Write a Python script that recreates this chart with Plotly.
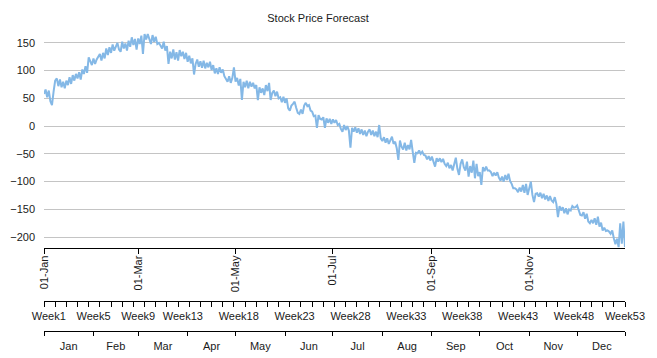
import plotly.graph_objects as go
import pandas as pd

title_text = "Stock Price Forecast"
start_date = "2023-01-01"
end_date = "2023-12-31"

# daily values (Jan 1 .. Dec 31)
values = [
    58, 66, 52, 64, 45, 38, 62, 82, 86, 72, 84, 70, 80, 68, 82, 74, 88, 76, 92, 82,
    94, 86, 97, 84, 102, 94, 108, 96, 124, 116, 110, 122, 112, 120, 126, 130, 118, 132, 122, 140,
    128, 142, 132, 147, 136, 144, 150, 138, 134, 152, 140, 149, 136, 154, 143, 160, 146, 157, 138, 158,
    148, 163, 130, 166, 156, 166, 158, 148, 164, 152, 161, 148, 150, 144, 140, 152, 136, 144, 112, 134,
    122, 138, 120, 133, 118, 137, 126, 134, 121, 132, 116, 127, 113, 122, 93, 112, 120, 107, 117, 105,
    118, 104, 114, 106, 116, 101, 110, 95, 104, 94, 106, 96, 102, 90, 86, 80, 90, 78, 87, 106,
    80, 87, 73, 85, 47, 80, 70, 82, 68, 80, 71, 78, 68, 74, 47, 70, 60, 68, 56, 74,
    63, 78, 47, 60, 64, 54, 62, 50, 52, 43, 53, 42, 50, 32, 28, 37, 40, 44, 33, 24,
    22, 30, 22, 37, 42, 36, 38, 28, 26, 18, 19, -3, 20, 13, 12, 16, -3, 14, 6, 13,
    4, 12, 6, 11, 2, 4, -5, -10, 2, -7, 0, -8, -39, -3, -10, -2, -12, -4, -14, -6,
    -16, -8, -18, -10, -6, -16, -8, -18, -10, -20, 2, -22, -27, -20, -30, -22, -32, -25, -19, -32,
    -28, -40, -61, -26, -37, -42, -30, -44, -34, -42, -25, -46, -66, -48, -49, -44, -50, -46, -52, -53,
    -60, -54, -62, -55, -63, -73, -58, -64, -58, -65, -59, -68, -72, -66, -76, -70, -80, -68, -57, -77,
    -88, -68, -60, -74, -80, -64, -91, -72, -84, -62, -94, -68, -90, -83, -106, -74, -81, -73, -80, -80,
    -83, -90, -84, -89, -83, -93, -98, -91, -100, -88, -97, -86, -99, -104, -112, -112, -114, -119, -111, -118,
    -106, -120, -104, -124, -113, -100, -124, -137, -122, -121, -127, -120, -130, -122, -132, -125, -135, -126, -134, -137,
    -128, -140, -164, -144, -152, -146, -157, -148, -159, -150, -152, -144, -147, -146, -143, -154, -160, -161, -155, -167,
    -158, -172, -175, -169, -175, -166, -178, -163, -181, -174, -188, -183, -189, -188, -190, -194, -188, -202, -213, -203,
    -218, -175, -212, -172, -218,
]

y_ticks = [-200, -150, -100, -50, 0, 50, 100, 150]
week_numbers = [1, 5, 9, 13, 18, 23, 28, 33, 38, 43, 48, 53]
month_labels = ["Jan", "Feb", "Mar", "Apr", "May", "Jun",
                "Jul", "Aug", "Sep", "Oct", "Nov", "Dec"]

dates = pd.date_range(start_date, periods=len(values), freq="D")
t0 = pd.Timestamp(start_date)
t1 = pd.Timestamp(end_date)

# week axis positions
week_bounds = pd.date_range(t0, t1, freq="7D")
week_label_pos = [min(t0 + pd.Timedelta(days=7 * (n - 1) + 3), t1) for n in week_numbers]
week_label_text = ["Week%d" % n for n in week_numbers]

# month axis positions
month_starts = pd.date_range(t0, periods=12, freq="MS")
month_ends = list(month_starts[1:]) + [t1 + pd.Timedelta(days=1)]
month_label_pos = [s + (e - s) / 2 for s, e in zip(month_starts, month_ends)]
month_bounds = list(month_starts) + [t1]

FONT = "Liberation Sans, Arial, sans-serif"
TXT = "#1a1a1a"

fig = go.Figure()
fig.add_trace(go.Scatter(x=dates, y=values, mode="lines",
                         line=dict(color="#84b8e6", width=2),
                         hoverinfo="skip", showlegend=False))
for ax in ["x2", "x3"]:
    fig.add_trace(go.Scatter(x=[dates[0], dates[-1]], y=[values[0], values[-1]],
                             xaxis=ax, mode="lines", opacity=0,
                             hoverinfo="skip", showlegend=False))

xr = [t0, t1]
OFF = 8  # page body margin of the browser
W, H = 657 - OFF, 358 - OFF
ml, mr = 44 - OFF, 657 - 625
mt, mb = 29 - OFF, 2
ph = H - mt - mb


def pos(ypix_ref):
    return (H - mb - (ypix_ref - OFF)) / ph


fig.update_layout(
    width=W, height=H,
    margin=dict(l=ml, r=mr, t=mt, b=mb),
    paper_bgcolor="white", plot_bgcolor="white",
    font=dict(family=FONT, size=11, color=TXT),
    showlegend=False,
    title=dict(text=title_text, x=(318 - OFF) / W, y=1 - (18 - OFF) / H, xref="container",
               yref="container", xanchor="center", yanchor="middle",
               font=dict(family=FONT, size=11, color=TXT)),
    yaxis=dict(domain=[pos(248.2), 1], range=[-220, 175], tickvals=y_ticks,
               showgrid=True, gridcolor="#c4c4c4", gridwidth=1,
               zeroline=False, showline=False, ticks="", ticklabelstandoff=8,
               tickfont=dict(size=11, color=TXT)),
    xaxis=dict(type="date", range=xr, anchor="y", showgrid=False, zeroline=False,
               showline=True, linecolor="#000", linewidth=1,
               ticks="outside", ticklen=5, tickcolor="#000",
               tick0=start_date, dtick="M2", tickformat="%d-%b", tickangle=-90,
               ticklabelstandoff=-3,
               tickfont=dict(size=11, color=TXT)),
    xaxis2=dict(type="date", range=xr, overlaying="x", anchor="free", position=pos(300.7),
                side="bottom", showgrid=False, zeroline=False,
                showline=True, linecolor="#000", linewidth=1,
                tickmode="array", tickvals=week_label_pos, ticktext=week_label_text,
                ticks="outside", ticklen=5, tickcolor="rgba(0,0,0,0)",
                minor=dict(tickmode="array", tickvals=list(week_bounds) + [t1],
                           ticks="outside", ticklen=5, tickcolor="#000", showgrid=False),
                tickfont=dict(size=11, color=TXT)),
    xaxis3=dict(type="date", range=xr, overlaying="x", anchor="free", position=pos(330.7),
                side="bottom", showgrid=False, zeroline=False,
                showline=True, linecolor="#000", linewidth=1,
                tickmode="array", tickvals=month_label_pos, ticktext=month_labels,
                ticks="outside", ticklen=5, tickcolor="rgba(0,0,0,0)",
                minor=dict(tickmode="array", tickvals=month_bounds,
                           ticks="outside", ticklen=4, tickcolor="#000", showgrid=False),
                tickfont=dict(size=11, color=TXT)),
)

fig.write_html("out.html")
